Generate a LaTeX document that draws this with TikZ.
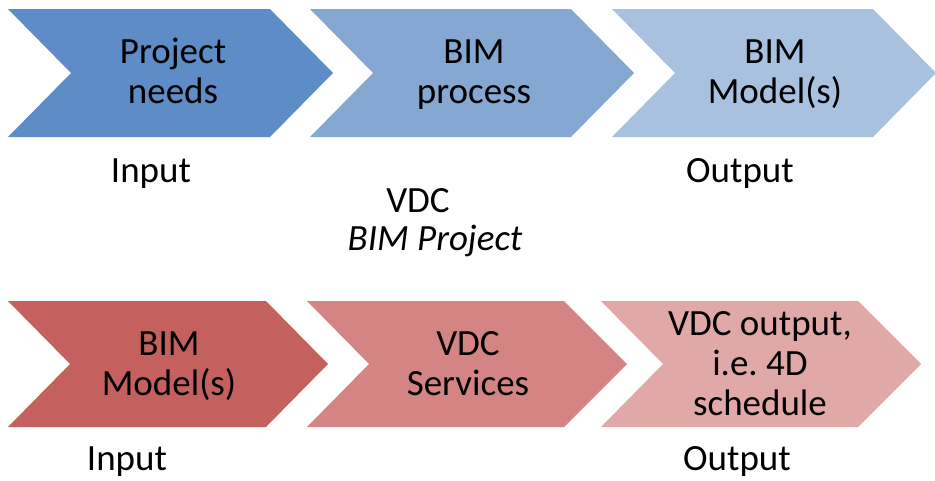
\documentclass[tikz,border=0pt]{standalone}
\usepackage{fontspec}
\setmainfont{Carlito}
\frenchspacing
\begin{document}
\begin{tikzpicture}[x=1pt,y=-1pt,
  lbl/.style={anchor=base, inner sep=0pt, font=\fontsize{37}{40}\selectfont},
  chtext/.style={anchor=base, inner sep=0pt, align=center, font=\fontsize{37}{40}\selectfont}]
\definecolor{tA}{HTML}{5E8CC6}
\definecolor{tB}{HTML}{84A8D1}
\definecolor{tC}{HTML}{A8C1DF}
\definecolor{bA}{HTML}{C4605D}
\definecolor{bB}{HTML}{D48583}
\definecolor{bC}{HTML}{E0A8A7}
\fill[white] (0,0) rectangle (935,480);
\useasboundingbox (0,0) rectangle (935,480);
% top row chevrons
\fill[tA] (8,9) -- (270,9) -- (333,73) -- (270,137) -- (8,137) -- (71,73) -- cycle;
\fill[tB] (310,9) -- (571,9) -- (634,73) -- (571,137) -- (310,137) -- (373,73) -- cycle;
\fill[tC] (612,9) -- (873,9) -- (936,73) -- (873,137) -- (612,137) -- (675,73) -- cycle;
% bottom row chevrons
\fill[bA] (8,301) -- (266,301) -- (328,364) -- (266,427) -- (8,427) -- (70,364) -- cycle;
\fill[bB] (307,301) -- (564,301) -- (627,364) -- (564,427) -- (307,427) -- (369,364) -- cycle;
\fill[bC] (601,301) -- (858,301) -- (921,364) -- (858,427) -- (601,427) -- (663,364) -- cycle;
% chevron texts (base = baseline of last line)
\node[chtext] (t1) at (173,103) {Project\\needs};
\node[chtext] (t2) at (474,103) {BIM\\process};
\node[chtext] (t3) at (775,103) {BIM\\Model(s)};
\node[chtext] (b1) at (169,395) {BIM\\Model(s)};
\node[chtext] (b2) at (468,395) {VDC\\Services};
\node[chtext] (b3) at (760,415) {VDC output,\\i.e. 4D\\schedule};
% labels
\node[lbl] (in1) at (151,182) {Input};
\node[lbl] (out1) at (740,182) {Output};
\node[lbl] (vdc) at (418,212) {VDC};
\node[lbl] (bimp) at (435,250) {\itshape BIM Project};
\node[lbl] (in2) at (127,470) {Input};
\node[lbl] (out2) at (737,470) {Output};
\end{tikzpicture}
\end{document}
